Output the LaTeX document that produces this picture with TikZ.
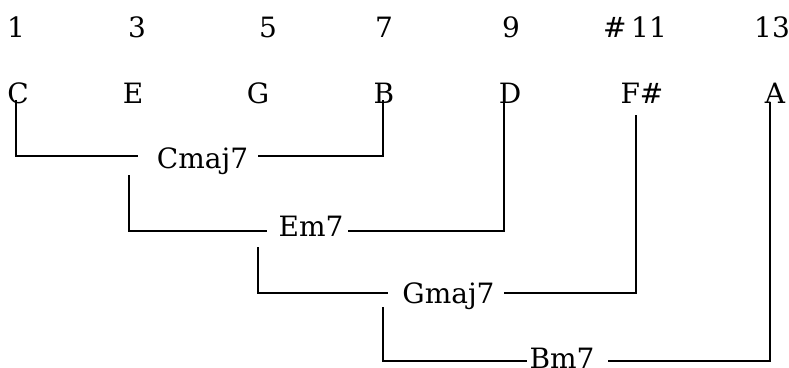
\documentclass[tikz,border=0pt]{standalone}
\usepackage{fontspec}
\setmainfont{DejaVu Serif}
\begin{document}
\begin{tikzpicture}[x=1pt,y=-1pt,
  lbl/.style={inner sep=0pt, anchor=base, font=\fontsize{28}{32}\selectfont},
  conn/.style={line width=2pt}]
\useasboundingbox (0,0) rectangle (789,367);
\clip (0,0) rectangle (789,367);
% degree numbers
\node[lbl] (n1)  at (16,37)  {1};
\node[lbl] (n3)  at (137,37) {3};
\node[lbl] (n5)  at (268,37) {5};
\node[lbl] (n7)  at (384,37) {7};
\node[lbl] (n9)  at (511,37) {9};
\node[lbl] (n11) at (635,37) {\#\,11};
\node[lbl] (n13) at (772,37) {13};
% notes
\node[lbl] (C)  at (18,103)  {C};
\node[lbl] (E)  at (133,103) {E};
\node[lbl] (G)  at (258,103) {G};
\node[lbl] (B)  at (384,103) {B};
\node[lbl] (D)  at (510,103) {D};
\node[lbl] (Fs) at (642,103) {F\#};
\node[lbl] (A)  at (775,103) {A};
% chords
\node[lbl] (cmaj) at (202.5,168) {Cmaj7};
\node[lbl] (em)   at (311,236)   {Em7};
\node[lbl] (gmaj) at (448.5,303) {Gmaj7};
\node[lbl] (bm)   at (562,368)   {Bm7};
% connector end points
\coordinate (Ct) at (16,100);
\coordinate (Bt) at (383,100);
\coordinate (cmajL) at (138,156);
\coordinate (cmajR) at (258,156);
\coordinate (Et) at (129,175);
\coordinate (Dt) at (504,100);
\coordinate (emL) at (267,231);
\coordinate (emR) at (348,231);
\coordinate (Gt) at (258,247);
\coordinate (Fst) at (636,115);
\coordinate (gmajL) at (388,293);
\coordinate (gmajR) at (504,293);
\coordinate (Bmt) at (383,307);
\coordinate (At) at (770,102);
\coordinate (bmL) at (527,361);
\coordinate (bmR) at (608,361);
% connectors
\draw[conn] (Ct) |- (cmajL);
\draw[conn] (cmajR) -| (Bt);
\draw[conn] (Et) |- (emL);
\draw[conn] (emR) -| (Dt);
\draw[conn] (Gt) |- (gmajL);
\draw[conn] (gmajR) -| (Fst);
\draw[conn] (Bmt) |- (bmL);
\draw[conn] (bmR) -| (At);
\end{tikzpicture}
\end{document}
